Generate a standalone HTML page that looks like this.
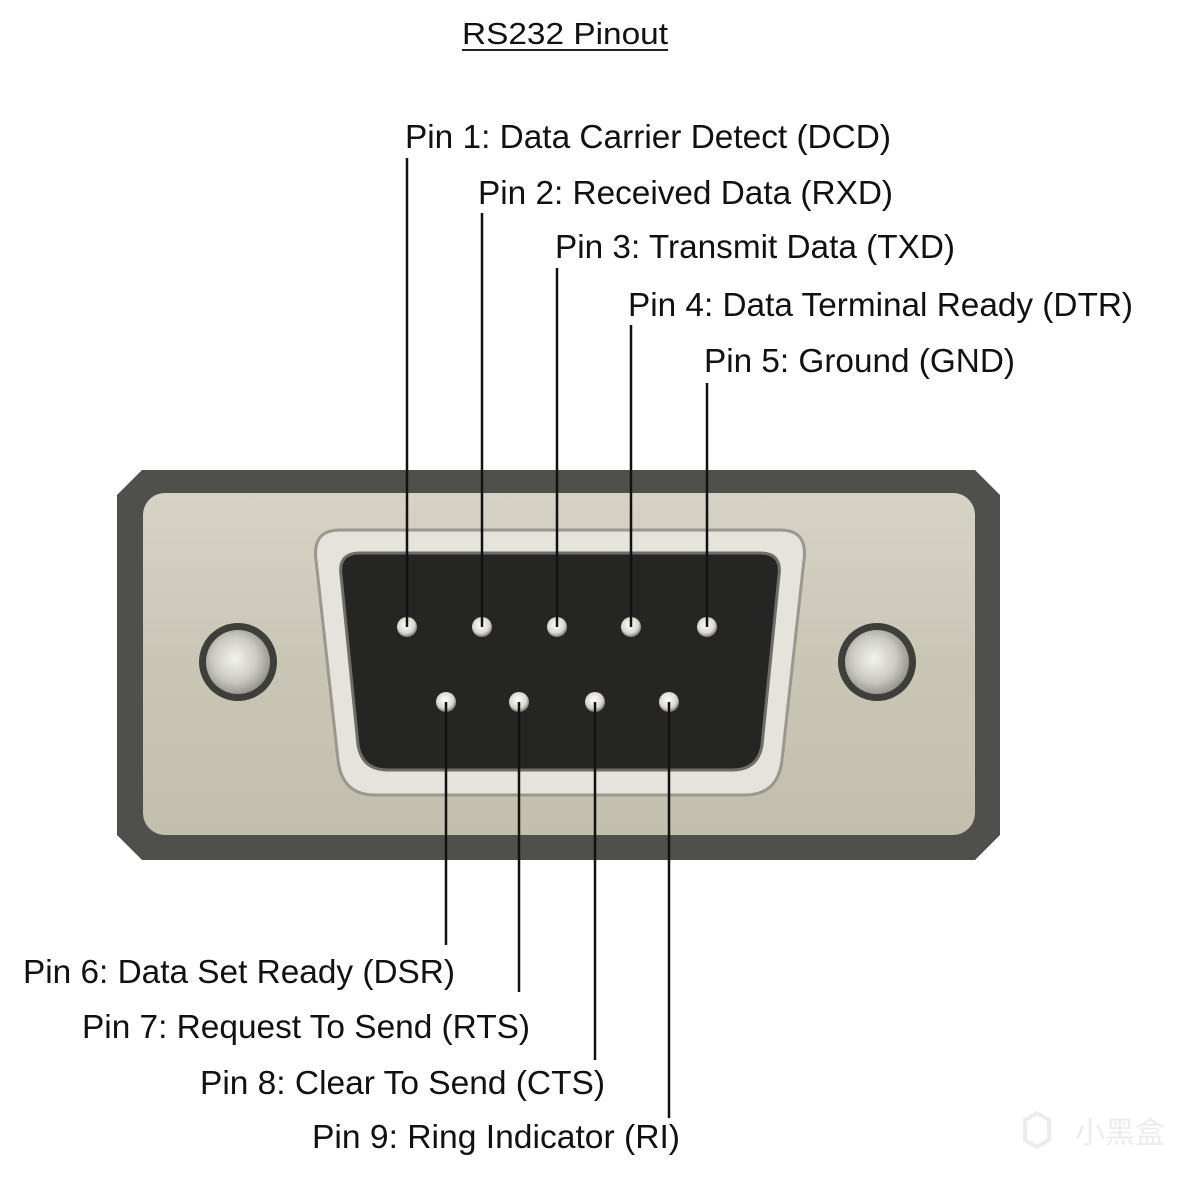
<!DOCTYPE html>
<html><head><meta charset="utf-8"><style>
html,body{margin:0;padding:0;background:#fff;}
svg{display:block;}
text{font-family:"Liberation Sans",Arial,sans-serif;font-size:33px;fill:#111;}
</style></head><body>
<svg width="1200" height="1183" viewBox="0 0 1200 1183" xmlns="http://www.w3.org/2000/svg">
<defs>
<linearGradient id="plate" x1="0" y1="0" x2="0" y2="1">
<stop offset="0" stop-color="#d6d3c6"/><stop offset="0.5" stop-color="#cac6b6"/><stop offset="1" stop-color="#c3bfae"/>
</linearGradient>
<radialGradient id="scr" cx="0.45" cy="0.45" r="0.6">
<stop offset="0" stop-color="#f4f4f0"/><stop offset="0.6" stop-color="#c9c8c0"/><stop offset="1" stop-color="#8d8c84"/>
</radialGradient>
<radialGradient id="pin" cx="0.45" cy="0.4" r="0.6">
<stop offset="0" stop-color="#ffffff"/><stop offset="0.7" stop-color="#d8d6ce"/><stop offset="1" stop-color="#7a7870"/>
</radialGradient>
</defs>
<rect width="1200" height="1183" fill="#fff"/>
<!-- title -->
<text x="462" y="44" textLength="206" lengthAdjust="spacingAndGlyphs" style="font-size:31px">RS232 Pinout</text>
<line x1="462" y1="50" x2="668" y2="50" stroke="#222" stroke-width="2"/>
<!-- outer body -->
<polygon points="142,470 975,470 1000,495 1000,835 975,860 142,860 117,835 117,495" fill="#4f4f4b"/>
<rect x="143" y="493" width="832" height="342" rx="22" fill="url(#plate)"/>
<!-- D shell -->
<path d="M340,530 L780,530 Q808,530 804,560 L782,760 Q778,795 745,795 L375,795 Q342,795 338,760 L316,560 Q312,530 340,530 Z" fill="#e4e3dc" stroke="#9a988e" stroke-width="3"/>
<path d="M360,553 L760,553 Q782,553 779,575 L762,745 Q758,770 732,770 L388,770 Q362,770 358,745 L341,575 Q338,553 360,553 Z" fill="#252523" stroke="#6f6d66" stroke-width="3"/>
<!-- screws -->
<circle cx="238" cy="662" r="39" fill="#3e3e3a"/>
<circle cx="238" cy="662" r="32" fill="url(#scr)"/>
<circle cx="877" cy="662" r="39" fill="#3e3e3a"/>
<circle cx="877" cy="662" r="32" fill="url(#scr)"/>
<!-- pins -->
<g fill="url(#pin)">
<circle cx="407" cy="627" r="10"/><circle cx="482" cy="627" r="10"/><circle cx="557" cy="627" r="10"/><circle cx="631" cy="627" r="10"/><circle cx="707" cy="627" r="10"/>
<circle cx="446" cy="702" r="10"/><circle cx="519" cy="702" r="10"/><circle cx="595" cy="702" r="10"/><circle cx="669" cy="702" r="10"/>
</g>
<!-- leader lines -->
<g stroke="#111" stroke-width="2.5">
<line x1="407" y1="158" x2="407" y2="627"/>
<line x1="482" y1="213" x2="482" y2="627"/>
<line x1="557" y1="268" x2="557" y2="627"/>
<line x1="631" y1="325" x2="631" y2="627"/>
<line x1="707" y1="383" x2="707" y2="627"/>
<line x1="446" y1="702" x2="446" y2="945"/>
<line x1="519" y1="702" x2="519" y2="992"/>
<line x1="595" y1="702" x2="595" y2="1060"/>
<line x1="669" y1="702" x2="669" y2="1118"/>
</g>
<!-- labels -->
<text x="405" y="148" textLength="486" lengthAdjust="spacingAndGlyphs">Pin 1: Data Carrier Detect (DCD)</text>
<text x="478" y="204" textLength="415" lengthAdjust="spacingAndGlyphs">Pin 2: Received Data (RXD)</text>
<text x="555" y="258" textLength="400" lengthAdjust="spacingAndGlyphs">Pin 3: Transmit Data (TXD)</text>
<text x="628" y="316" textLength="505" lengthAdjust="spacingAndGlyphs">Pin 4: Data Terminal Ready (DTR)</text>
<text x="704" y="372" textLength="311" lengthAdjust="spacingAndGlyphs">Pin 5: Ground (GND)</text>
<text x="23" y="983" textLength="432" lengthAdjust="spacingAndGlyphs">Pin 6: Data Set Ready (DSR)</text>
<text x="82" y="1038" textLength="448" lengthAdjust="spacingAndGlyphs">Pin 7: Request To Send (RTS)</text>
<text x="200" y="1094" textLength="405" lengthAdjust="spacingAndGlyphs">Pin 8: Clear To Send (CTS)</text>
<text x="312" y="1148" textLength="368" lengthAdjust="spacingAndGlyphs">Pin 9: Ring Indicator (RI)</text>
<!-- watermark -->
<text x="1075" y="1143" style="font-family:'Liberation Sans','Noto Sans CJK SC',sans-serif;font-size:30px;fill:#ececec">小黑盒</text>
<path d="M1025,1120 l12,-7 l12,7 v20 l-12,7 l-12,-7 z" fill="none" stroke="#ececec" stroke-width="4"/>
</svg>
</body></html>
